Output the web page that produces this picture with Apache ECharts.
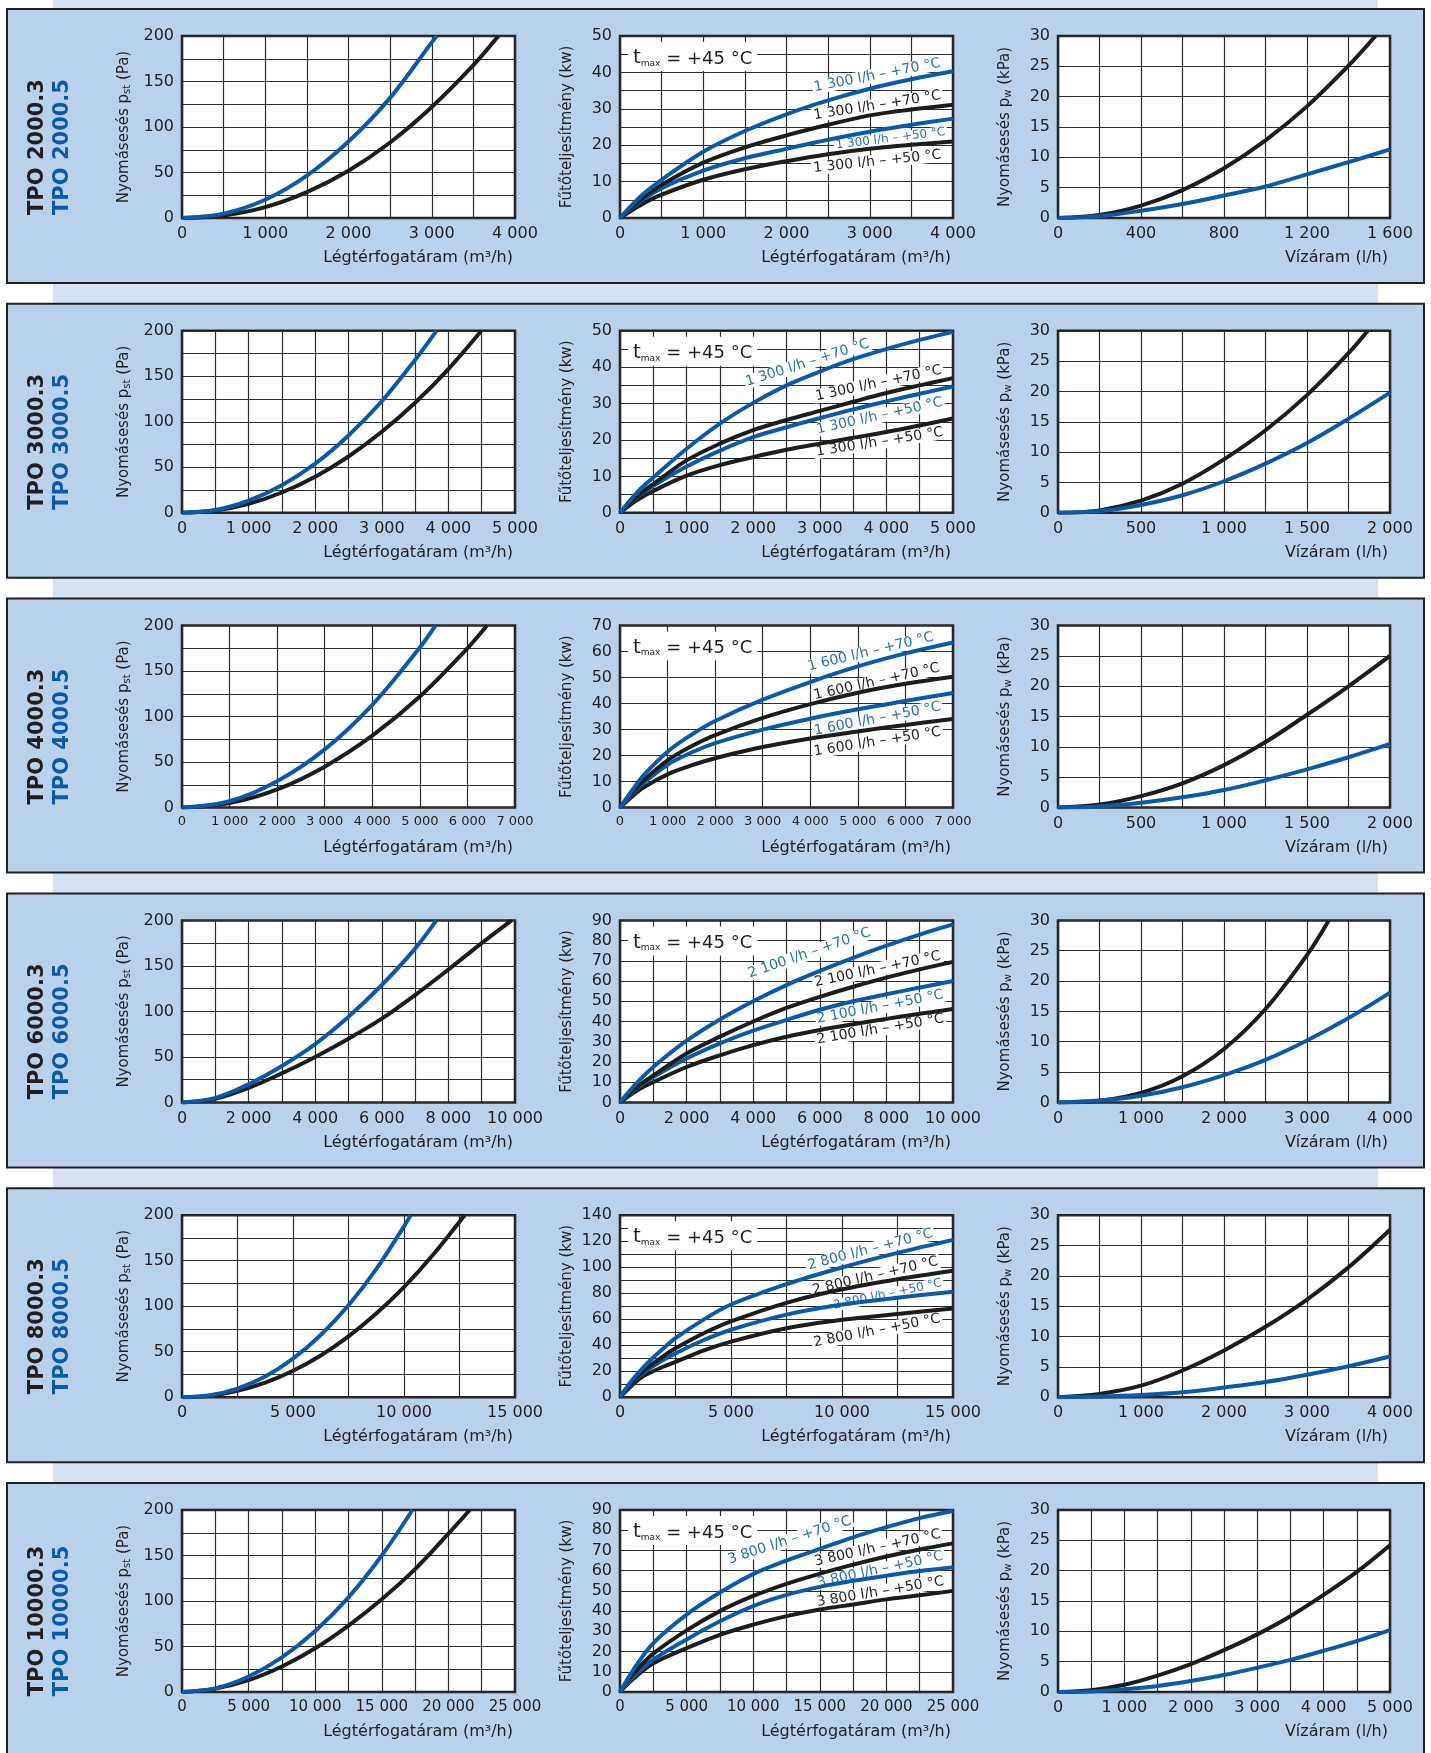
<!DOCTYPE html>
<html><head><meta charset="utf-8">
<script src="https://cdn.jsdelivr.net/npm/echarts@6/dist/echarts.min.js"></script>
<style>html,body{margin:0;padding:0;background:#fff;}#c{width:1431px;height:1753px;}</style>
</head><body><div id="c"></div>
<script>
// ---------------- DATA ----------------
const models = ['2000', '3000', '4000', '6000', '8000', '10000'];
const flowText = ['1 300', '1 300', '1 600', '2 100', '2 800', '3 800'];

// axis ranges / tick steps (x: air volume flow, power, water flow)
const airMax = [4000, 5000, 7000, 10000, 15000, 25000];
const airGridStep = [500, 500, 1000, 1000, 2500, 2500];
const airLabelStep = [1000, 1000, 1000, 2000, 5000, 5000];
const pstMax = 200, pstGridStep = 25, pstLabelStep = 50;
const powMax = [50, 50, 70, 90, 140, 90];
const powGridStep = [5, 5, 10, 10, 10, 10];
const powLabelStep = [10, 10, 10, 10, 20, 10];
const waterMax = [1600, 2000, 2000, 4000, 4000, 5000];
const waterGridStep = [200, 250, 250, 500, 500, 500];
const waterLabelStep = [400, 500, 500, 1000, 1000, 1000];
const pwMax = 30, pwGridStep = 5, pwLabelStep = 5;

// Air-side pressure drop p_st (Pa) vs air flow (m3/h): .3 = black, .5 = blue
const pst3_2000 = [[0,0],[500,2.8],[1000,12],[1500,28.5],[2000,52],[2500,83],[3000,122],[3500,168],[3800,200]];
const pst5_2000 = [[0,0],[500,4.8],[1000,20],[1500,46.5],[2000,84],[2500,132],[3000,193],[3060,200]];
const pst3_3000 = [[0,0],[500,2.5],[1000,9.9],[1500,22.3],[2000,39.6],[2500,61.9],[3000,89],[3500,121],[4000,158],[4495,200]];
const pst5_3000 = [[0,0],[500,3.1],[1000,13.4],[1500,30.3],[2000,54],[2500,85],[3000,122.6],[3500,168],[3820,200]];
const pst3_4000 = [[0,0],[1000,5],[2000,20],[3000,45],[4000,79],[5000,122],[6000,175],[6411,200]];
const pst5_4000 = [[0,0],[1000,7],[2000,29],[3000,64],[4000,113],[5000,176],[5327,200]];
const pst3_6000 = [[0,0],[1000,4],[2000,16],[3000,32],[4000,50],[5000,70],[6000,92],[7000,118],[8000,146],[9000,175],[9900,200]];
const pst5_6000 = [[0,0],[1000,5],[2000,20],[3000,40],[4000,64],[5000,94],[6000,129],[7000,169],[7640,200]];
const pst3_8000 = [[0,0],[1250,1.6],[2500,6.9],[3750,15.9],[5000,29],[6250,45.9],[7500,66.9],[8750,92],[10000,121],[11250,154.8],[12730,200]];
const pst5_8000 = [[0,0],[1250,2.2],[2500,9.5],[3750,22.7],[5000,42.3],[6250,68.4],[7500,101],[8750,140.8],[10000,187.8],[10300,200]];
const pst3_10000 = [[0,0],[2500,3.7],[5000,13],[7500,28],[10000,48],[12500,73],[15000,102],[17500,135],[20000,174],[21600,200]];
const pst5_10000 = [[0,0],[2500,4],[5000,17],[7500,38],[10000,67],[12500,104],[15000,150],[17300,200]];

// Heating output (kW) vs air flow: blue +70, black +70, blue +50, black +50
const pow70b_2000 = [[0,0],[250,6],[500,10.5],[1000,18.2],[1500,23.9],[2000,28.5],[2500,32.3],[3000,35.5],[3500,38.1],[4000,40.3]];
const pow70k_2000 = [[0,0],[250,5],[500,9.1],[1000,15.2],[1500,19.4],[2000,22.7],[2500,25.6],[3000,28.2],[3500,29.8],[4000,31.1]];
const pow50b_2000 = [[0,0],[250,4.6],[500,8.2],[1000,13],[1500,16.4],[2000,19],[2500,21.5],[3000,23.7],[3500,25.6],[4000,27.3]];
const pow50k_2000 = [[0,0],[250,3.6],[500,6.4],[1000,10.5],[1500,13.4],[2000,15.6],[2500,17.5],[3000,19],[3500,20.1],[4000,21]];

const pow70b_3000 = [[0,0],[250,5.5],[500,9.7],[1000,17.6],[1500,24.5],[2000,30.2],[2500,35],[3000,38.8],[3500,42.2],[4000,45],[4500,47.5],[5000,49.7]];
const pow70k_3000 = [[0,0],[250,4.5],[500,7.9],[1000,14.4],[1500,19],[2000,22.7],[2500,25.5],[3000,28],[3500,30.5],[4000,32.9],[4500,35],[5000,37]];
const pow50b_3000 = [[0,0],[250,4.2],[500,7.4],[1000,12.7],[1500,17.1],[2000,20.8],[2500,23.5],[3000,26],[3500,28.4],[4000,30.6],[4500,32.7],[5000,34.7]];
const pow50k_3000 = [[0,0],[250,3.4],[500,6],[1000,10.2],[1500,13.1],[2000,15.3],[2500,17.3],[3000,19],[3500,20.6],[4000,22.2],[4500,24],[5000,25.9]];

const pow70b_4000 = [[0,0],[250,6.5],[500,12.5],[1000,21.5],[1500,28],[2000,33.3],[3000,41.5],[4000,48.3],[5000,54.3],[6000,59.3],[7000,63.5]];
const pow70k_4000 = [[0,0],[250,5.5],[500,10.5],[1000,18.2],[1500,23.6],[2000,27.9],[3000,34.5],[4000,39.8],[5000,44.2],[6000,47.6],[7000,50.3]];
const pow50b_4000 = [[0,0],[250,5],[500,9.5],[1000,16.5],[1500,21.2],[2000,24.8],[3000,30],[4000,34.2],[5000,37.8],[6000,41],[7000,44.1]];
const pow50k_4000 = [[0,0],[250,4.2],[500,7.8],[1000,12.8],[1500,16.2],[2000,19],[3000,23.3],[4000,26.6],[5000,29.3],[6000,31.8],[7000,34.1]];

const pow70b_6000 = [[0,0],[500,9.5],[1000,17.5],[2000,30.5],[3000,41],[4000,50],[5000,58],[6000,65],[7000,71.5],[8000,77.5],[9000,83],[10000,88]];
const pow70k_6000 = [[0,0],[500,7.5],[1000,13.3],[2000,24.2],[3000,32.5],[4000,40],[5000,46.7],[6000,52.2],[7000,57.2],[8000,61.7],[9000,65.8],[10000,69.5]];
const pow50b_6000 = [[0,0],[500,7],[1000,12.5],[2000,21.7],[3000,29.2],[4000,35.5],[5000,40.8],[6000,45.8],[7000,50],[8000,53.5],[9000,56.8],[10000,60]];
const pow50k_6000 = [[0,0],[500,5.8],[1000,10],[2000,17.5],[3000,23.3],[4000,28.3],[5000,32.5],[6000,35.8],[7000,38.6],[8000,41.3],[9000,43.8],[10000,46.2]];

const pow70b_8000 = [[0,0],[500,12],[1000,22],[1500,30.5],[2000,38.3],[2500,45.4],[3750,59.5],[5000,71.3],[7500,87],[10000,99.8],[12500,111],[15000,121]];
const pow70k_8000 = [[0,0],[500,10.5],[1000,19.4],[1500,26],[2000,32.2],[2500,37.6],[3750,49],[5000,58.3],[7500,72.6],[10000,83],[12500,90.7],[15000,97.2]];
const pow50b_8000 = [[0,0],[500,10],[1000,18],[1500,24],[2000,29.2],[2500,33.7],[3750,43.8],[5000,51.9],[7500,63.5],[10000,71.3],[12500,76.5],[15000,81.2]];
const pow50k_8000 = [[0,0],[500,8.5],[1000,15.6],[1500,20],[2000,23.8],[2500,27.2],[3750,35.8],[5000,42.8],[7500,53.1],[10000,59.6],[12500,64],[15000,68.2]];

const pow70b_10000 = [[0,0],[1000,11],[2500,24.2],[5000,38.3],[7500,49.2],[10000,58.3],[12500,65],[15000,70.8],[17500,76.5],[20000,81.5],[22500,86],[25000,89.5]];
const pow70k_10000 = [[0,0],[1000,9],[2500,19],[5000,30.5],[7500,40],[10000,47.5],[12500,53.5],[15000,58.5],[17500,63],[20000,67],[22500,70.5],[25000,73.5]];
const pow50b_10000 = [[0,0],[1000,7.5],[2500,16],[5000,26],[7500,35],[10000,42.5],[12500,48],[15000,52],[17500,55],[20000,57.5],[22500,59.8],[25000,61.7]];
const pow50k_10000 = [[0,0],[1000,6.5],[2500,14.2],[5000,21.7],[7500,28.3],[10000,33.3],[12500,37.5],[15000,40.8],[17500,43.3],[20000,45.8],[22500,47.8],[25000,50]];

// Water-side pressure drop p_w (kPa) vs water flow (l/h): .3 = black, .5 = blue
const pw3_2000 = [[0,0],[200,0.5],[400,2.05],[600,4.6],[800,8.2],[1000,12.8],[1200,18.4],[1400,25.1],[1530,30]];
const pw5_2000 = [[0,0],[200,0.3],[400,1.2],[600,2.3],[800,3.7],[1000,5.2],[1200,7.2],[1400,9.2],[1600,11.3]];
const pw3_3000 = [[0,0],[250,0.4],[500,2],[750,4.8],[1000,8.8],[1250,13.6],[1500,19.4],[1750,26.3],[1866,30]];
const pw5_3000 = [[0,0],[250,0.3],[500,1.3],[750,2.9],[1000,5.2],[1250,8.1],[1500,11.5],[1750,15.5],[2000,19.8]];
const pw3_4000 = [[0,0],[250,0.5],[500,1.9],[750,4],[1000,7],[1250,10.8],[1500,15.3],[1750,20],[2000,25]];
const pw5_4000 = [[0,0],[250,0.2],[500,0.8],[750,1.7],[1000,2.9],[1250,4.5],[1500,6.3],[1750,8.3],[2000,10.5]];
const pw3_6000 = [[0,0],[500,0.28],[1000,1.56],[1500,4.3],[2000,8.8],[2500,15.4],[3000,24.3],[3262,30]];
const pw5_6000 = [[0,0],[500,0.3],[1000,1.1],[1500,2.5],[2000,4.5],[2500,7],[3000,10.2],[3500,13.9],[4000,18.1]];
const pw3_8000 = [[0,0],[500,0.55],[1000,1.9],[1500,4.4],[2000,7.7],[2500,11.6],[3000,16.1],[3500,21.4],[4000,27.6]];
const pw5_8000 = [[0,0],[500,0.1],[1000,0.35],[1500,0.8],[2000,1.6],[2500,2.5],[3000,3.7],[3500,5.1],[4000,6.7]];
const pw3_10000 = [[0,0],[500,0.3],[1000,1.2],[1500,2.7],[2000,4.6],[2500,6.9],[3000,9.5],[3500,12.5],[4000,16],[4500,19.8],[5000,24.2]];
const pw5_10000 = [[0,0],[500,0.1],[1000,0.45],[1500,1],[2000,1.8],[2500,2.8],[3000,4],[3500,5.3],[4000,6.8],[4500,8.4],[5000,10.2]];

// curve label anchors (data coordinates): blue +70, black +70, blue +50, black +50
const noteAt_2000 = [[3091,39.2],[3091,30.9],[3250,21.8],[3091,15.5]];
const noteAt_3000 = [[2816,41.2],[3883,35.6],[3898,26.6],[3898,19.4]];
const noteAt_4000 = [[5271,59.9],[5398,48.4],[5411,34.1],[5411,25.3]];
const noteAt_6000 = [[5691,73.8],[7735,65.8],[7816,47.2],[7816,36.2]];
const noteAt_8000 = [[11273,113.5],[11498,93.3],[12054,79.1],[11573,51.1]];
const noteAt_10000 = [[12725,75],[19339,71.2],[19539,60.5],[19539,49.5]];

const pst3 = [pst3_2000, pst3_3000, pst3_4000, pst3_6000, pst3_8000, pst3_10000];
const pst5 = [pst5_2000, pst5_3000, pst5_4000, pst5_6000, pst5_8000, pst5_10000];
const pow70b = [pow70b_2000, pow70b_3000, pow70b_4000, pow70b_6000, pow70b_8000, pow70b_10000];
const pow70k = [pow70k_2000, pow70k_3000, pow70k_4000, pow70k_6000, pow70k_8000, pow70k_10000];
const pow50b = [pow50b_2000, pow50b_3000, pow50b_4000, pow50b_6000, pow50b_8000, pow50b_10000];
const pow50k = [pow50k_2000, pow50k_3000, pow50k_4000, pow50k_6000, pow50k_8000, pow50k_10000];
const pw3 = [pw3_2000, pw3_3000, pw3_4000, pw3_6000, pw3_8000, pw3_10000];
const pw5 = [pw5_2000, pw5_3000, pw5_4000, pw5_6000, pw5_8000, pw5_10000];
const noteAt = [noteAt_2000, noteAt_3000, noteAt_4000, noteAt_6000, noteAt_8000, noteAt_10000];

// ---------------- STYLE / LAYOUT ----------------
const FONT = '"DejaVu Sans", sans-serif';
const INK = '#231f20';
const BLUE = '#0b5aa9';
const BLUE_TXT = '#2770bf';
const BLACK = '#1d1d1b';
const PANEL = '#b9d1ea';
const STRIP = '#d4e2f2';
const rowTop0 = 9, rowPitch = 294.8, panelH = 274;
const colLeft = [182, 620, 1058], colW = [333, 333, 332];
const plotOff = 27, plotH = 182;
const noteRot = [[11,9,7,6],[17.7,12,12.5,9],[13.5,12.6,11,9],[19,12,11,9.5],[14.7,13.3,11.8,11],[18,12.5,12.3,9.5]];
const noteSize = [[14,14,12,14],[14,14,14,14],[14,14,14,14],[14,14,14,14],[14,14,12,14],[14,14,14,14]];
const airFont = [16,16,13,16,16,15];

const fmt = v => { const s = String(Math.round(v)); return s.length > 3 ? s.slice(0, -3) + ' ' + s.slice(-3) : s; };
const stepFmt = step => v => (Math.abs(v / step - Math.round(v / step)) < 1e-6 ? fmt(v) : '');

const grid = [], xAxis = [], yAxis = [], series = [], graphic = [];
graphic.push({ type: 'rect', z: -2, silent: true, shape: { x: 53, y: 0, width: 1325, height: 1753 }, style: { fill: STRIP } });

function xName(text) {
  return { name: text, nameLocation: 'end', nameGap: -2,
    nameTextStyle: { color: INK, fontFamily: FONT, fontSize: 16, align: 'right', verticalAlign: 'top', padding: [32, 0, 0, 0] } };
}
function yName(main, sub, tail, gap) {
  return { name: '{n|' + main + '}{s|' + sub + '}{n|' + tail + '}', nameLocation: 'middle', nameGap: gap,
    nameTextStyle: { color: INK, fontFamily: FONT, fontSize: 15,
      rich: { n: { fontSize: 15, fontFamily: FONT, color: INK, lineHeight: 18, verticalAlign: 'bottom' },
              s: { fontSize: 10, fontFamily: FONT, color: INK, lineHeight: 9, verticalAlign: 'bottom' } } } };
}
function addAxes(g, xmax, xstep, xlab, xfont, ymax, ystep, ylab) {
  const gridLine = { show: true, lineStyle: { color: '#2e2e2e', width: 1.2 } };
  xAxis.push({ gridIndex: g, type: 'value', min: 0, max: xmax, interval: xstep,
    axisLine: { show: false }, axisTick: { show: false }, splitLine: gridLine,
    axisLabel: { margin: 8, color: INK, fontFamily: FONT, fontSize: xfont, formatter: stepFmt(xlab), showMinLabel: true, showMaxLabel: true } });
  yAxis.push({ gridIndex: g, type: 'value', min: 0, max: ymax, interval: ystep,
    axisLine: { show: false }, axisTick: { show: false }, splitLine: gridLine,
    axisLabel: { margin: 8, color: INK, fontFamily: FONT, fontSize: 16, formatter: stepFmt(ylab), showMinLabel: true, showMaxLabel: true } });
}
function line(g, data, color, mark) {
  const s = { type: 'line', xAxisIndex: g, yAxisIndex: g, data: data, smooth: 0.35, symbol: 'none', showSymbol: false,
    lineStyle: { color: color, width: 4 }, itemStyle: { color: color }, z: 4, silent: true, animation: false };
  if (mark) s.markPoint = { z: 2, symbol: 'circle', symbolSize: 0, silent: true, animation: false, data: [mark] };
  return s;
}

for (let r = 0; r < 6; r++) {
  const top = rowTop0 + r * rowPitch;
  const pTop = top + plotOff;
  graphic.push({ type: 'rect', z: -1, silent: true, shape: { x: 7, y: top, width: 1417, height: panelH }, style: { fill: PANEL, stroke: INK, lineWidth: 2 } });
  graphic.push({ type: 'text', z: 5, x: 38, y: top + 138, rotation: Math.PI / 2,
    style: { text: 'TPO ' + models[r] + '.3', font: 'bold 21px "DejaVu Sans"', fill: INK, align: 'center', verticalAlign: 'middle' } });
  graphic.push({ type: 'text', z: 5, x: 63, y: top + 138, rotation: Math.PI / 2,
    style: { text: 'TPO ' + models[r] + '.5', font: 'bold 21px "DejaVu Sans"', fill: BLUE, align: 'center', verticalAlign: 'middle' } });
  for (let c = 0; c < 3; c++) {
    grid.push({ left: colLeft[c], top: pTop, width: colW[c], height: plotH, show: true, backgroundColor: '#fff', borderColor: INK, borderWidth: 2.5 });
  }
  const g0 = r * 3, g1 = r * 3 + 1, g2 = r * 3 + 2;
  // column 1: air pressure drop
  addAxes(g0, airMax[r], airGridStep[r], airLabelStep[r], airFont[r], pstMax, pstGridStep, pstLabelStep);
  Object.assign(xAxis[g0], xName('Légtérfogatáram (m³/h)'));
  Object.assign(yAxis[g0], yName('Nyomásesés p', 'st', ' (Pa)', 50));
  series.push(line(g0, pst3[r], BLACK));
  series.push(line(g0, pst5[r], BLUE));
  // column 2: heating output
  addAxes(g1, airMax[r], airGridStep[r], airLabelStep[r], airFont[r], powMax[r], powGridStep[r], powLabelStep[r]);
  Object.assign(xAxis[g1], xName('Légtérfogatáram (m³/h)'));
  Object.assign(yAxis[g1], { name: 'Fűtőteljesítmény (kw)', nameLocation: 'middle', nameGap: 45,
    nameTextStyle: { color: INK, fontFamily: FONT, fontSize: 15 } });
  const curves = [[pow70b[r], BLUE, BLUE_TXT, '+70'], [pow70k[r], BLACK, INK, '+70'], [pow50b[r], BLUE, BLUE_TXT, '+50'], [pow50k[r], BLACK, INK, '+50']];
  [3, 2, 1, 0].forEach(i => {
    const cv = curves[i];
    const fs = noteSize[r][i];
    const mark = { coord: noteAt[r][i], label: { show: true, position: 'inside', formatter: flowText[r] + ' l/h – ' + cv[3] + ' °C',
      rotate: noteRot[r][i], color: cv[2], fontFamily: FONT, fontSize: fs, lineHeight: fs, backgroundColor: '#fff', padding: [0, 2, 0, 2] } };
    series.push(line(g1, cv[0], cv[1], mark));
  });
  graphic.push({ type: 'text', z: 6, x: colLeft[1] + 8, y: pTop + 6,
    style: { text: '{t|t}{s|max}{n| = +45 °C}', fill: INK, fontFamily: 'DejaVu Sans', fontSize: 18, backgroundColor: '#fff', padding: [3, 5, 3, 5],
      rich: { t: { fontSize: 20, fontFamily: 'DejaVu Sans', fill: INK, lineHeight: 23, verticalAlign: 'bottom' },
              s: { fontSize: 9, fontFamily: 'DejaVu Sans', fill: INK, lineHeight: 8, verticalAlign: 'bottom' },
              n: { fontSize: 18, fontFamily: 'DejaVu Sans', fill: INK, lineHeight: 23, verticalAlign: 'bottom' } } } });
  // column 3: water pressure drop
  addAxes(g2, waterMax[r], waterGridStep[r], waterLabelStep[r], 16, pwMax, pwGridStep, pwLabelStep);
  Object.assign(xAxis[g2], xName('Vízáram (l/h)'));
  Object.assign(yAxis[g2], yName('Nyomásesés p', 'w', ' (kPa)', 45));
  series.push(line(g2, pw3[r], BLACK));
  series.push(line(g2, pw5[r], BLUE));
}

const chart = echarts.init(document.getElementById('c'), null, { renderer: 'canvas' });
chart.setOption({ animation: false, backgroundColor: '#ffffff', textStyle: { fontFamily: FONT }, grid, xAxis, yAxis, series, graphic });
</script></body></html>
